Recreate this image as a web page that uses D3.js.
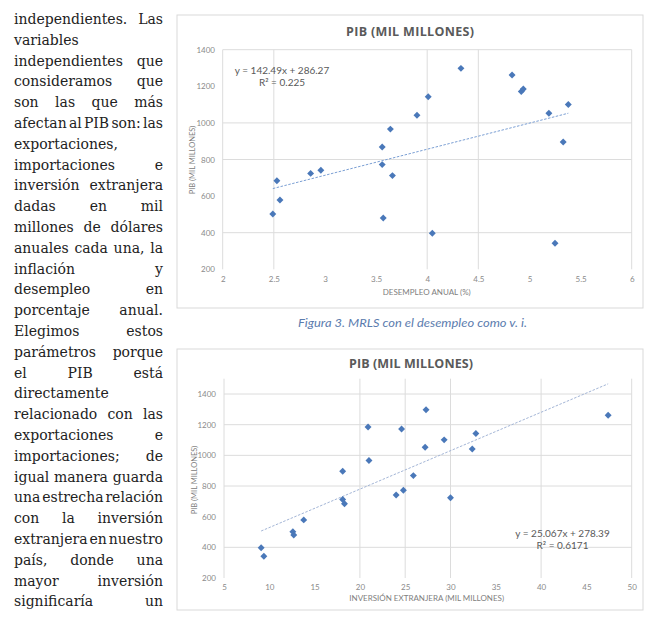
<!DOCTYPE html>
<html><head><meta charset="utf-8">
<script src="https://cdn.jsdelivr.net/npm/d3@7"></script>
<style>
html,body{margin:0;padding:0;background:#fff;}
svg{display:block;}
</style></head>
<body>
<svg id="page" width="648" height="617"></svg>
<script>
// ---------- DATA ----------
const paragraphLines = [
  "independientes. Las", "variables", "independientes que", "consideramos que",
  "son las que más", "afectan al PIB son: las", "exportaciones,", "importaciones e",
  "inversión extranjera", "dadas en mil", "millones de dólares", "anuales cada una, la",
  "inflación y", "desempleo en", "porcentaje anual.", "Elegimos estos",
  "parámetros porque", "el PIB está", "directamente", "relacionado con las",
  "exportaciones e", "importaciones; de", "igual manera guarda", "una estrecha relación",
  "con la inversión", "extranjera en nuestro", "país, donde una", "mayor inversión",
  "significaría un"
];

const pib        = [684, 579, 502, 724, 741, 772, 868, 480, 966, 712, 1042, 1143, 397, 1298, 1262, 1172, 1185, 1053, 1101, 896, 342];
const desempleo  = [2.53, 2.56, 2.49, 2.86, 2.96, 3.56, 3.56, 3.57, 3.64, 3.66, 3.90, 4.01, 4.05, 4.33, 4.83, 4.92, 4.94, 5.19, 5.38, 5.33, 5.25];
const inversion  = [18.3, 13.8, 12.6, 30.0, 24.0, 24.8, 25.9, 12.7, 21.0, 18.1, 32.4, 32.8, 9.1, 27.3, 47.4, 24.6, 20.9, 27.2, 29.3, 18.1, 9.4];

const xTicks1 = [2, 2.5, 3, 3.5, 4, 4.5, 5, 5.5, 6];
const yTicks1 = [200, 400, 600, 800, 1000, 1200, 1400];
const xGrid1  = [2, 2.5, 4, 4.5, 6];
const yGrid1  = [400, 800, 1000, 1400];
const trend1  = {slope: 142.49, intercept: 286.27, r2: "0.225", eq: "y = 142.49x + 286.27"};

const xTicks2 = [5, 10, 15, 20, 25, 30, 35, 40, 45, 50];
const yTicks2 = [200, 400, 600, 800, 1000, 1200, 1400];
const xGrid2  = [5, 20, 25, 30, 40, 50];
const yGrid2  = [400, 800, 1000, 1200, 1400];
const trend2  = {slope: 25.067, intercept: 278.39, r2: "0.6171", eq: "y = 25.067x + 278.39"};

const chartTitle = "PIB (MIL MILLONES)";
const yTitle = "PIB (MIL MILLONES)";
const xTitle1 = "DESEMPLEO ANUAL (%)";
const xTitle2 = "INVERSIÓN EXTRANJERA (MIL MILLONES)";
const caption1 = "Figura 3. MRLS con el desempleo como v. i.";

// ---------- PAGE ----------
const svg = d3.select("#page");
svg.append("rect").attr("width", 648).attr("height", 617).attr("fill", "#fff");

(function drawParagraph(){
  const left = 14, right = 163, width = right - left;
  const top = 24, step = 20.8;
  const g = svg.append("g").attr("font-family", "'DejaVu Serif', 'Liberation Serif', serif").attr("fill", "#222");
  let fs = 14.5;
  const probe = g.append("text").attr("x", -1000).attr("y", -1000);
  const measure = (t) => { probe.attr("font-size", fs).text(t); return probe.node().getComputedTextLength(); };
  for (let k = 0; k < 60; k++) {
    let ok = true;
    for (const line of paragraphLines) {
      const words = line.split(" ");
      const w = d3.sum(words, measure) + (words.length - 1) * fs * 0.12;
      if (w > width) { ok = false; break; }
    }
    if (ok) break;
    fs -= 0.1;
  }
  probe.remove();
  const m2 = g.append("text").attr("x", -1000).attr("y", -1000).attr("font-size", fs);
  paragraphLines.forEach((line, i) => {
    const words = line.split(" ");
    const y = top + i * step;
    if (words.length === 1) {
      g.append("text").attr("x", left).attr("y", y).attr("font-size", fs).text(line);
      return;
    }
    const ws = words.map(w => { m2.text(w); return m2.node().getComputedTextLength(); });
    const gap = (width - d3.sum(ws)) / (words.length - 1);
    let x = left;
    words.forEach((w, j) => {
      g.append("text").attr("x", x).attr("y", y).attr("font-size", fs).text(w);
      x += ws[j] + gap;
    });
  });
  m2.remove();
})();

// ---------- CHARTS ----------
function drawChart(cfg) {
  const g = svg.append("g");
  g.append("rect").attr("x", cfg.frame[0]).attr("y", cfg.frame[1])
    .attr("width", cfg.frame[2]).attr("height", cfg.frame[3])
    .attr("fill", "#fff").attr("stroke", "#d9d9d9").attr("stroke-width", 1);

  const x = d3.scaleLinear().domain(cfg.xDomain).range(cfg.xRange);
  const y = d3.scaleLinear().domain(cfg.yDomain).range(cfg.yRange);

  g.append("g").selectAll("line").data(cfg.yGrid).join("line")
    .attr("x1", x(cfg.xDomain[0])).attr("x2", x(cfg.xDomain[1]))
    .attr("y1", d => y(d)).attr("y2", d => y(d))
    .attr("stroke", "#dcdcdc").attr("stroke-width", 1);
  g.append("g").selectAll("line").data(cfg.xGrid).join("line")
    .attr("x1", d => x(d)).attr("x2", d => x(d))
    .attr("y1", y(cfg.yDomain[0])).attr("y2", y(cfg.yDomain[1]))
    .attr("stroke", "#dcdcdc").attr("stroke-width", 1);

  const xAxis = d3.axisBottom(x).tickValues(cfg.xTicks).tickSize(0).tickPadding(0).tickFormat(d3.format("~g"));
  const gx = g.append("g").attr("transform", `translate(0,${cfg.xLabelY})`).call(xAxis);
  gx.select(".domain").remove();
  gx.selectAll("text").attr("font-family", "Lato, 'Open Sans', sans-serif").attr("font-size", 8)
    .attr("fill", "#8a8a8a").attr("dy", "0.35em").attr("y", 0);

  const yAxis = d3.axisLeft(y).tickValues(cfg.yTicks).tickSize(0).tickPadding(0).tickFormat(d3.format("d"));
  const gy = g.append("g").attr("transform", `translate(${cfg.yLabelX},0)`).call(yAxis);
  gy.select(".domain").remove();
  gy.selectAll("text").attr("font-family", "Lato, 'Open Sans', sans-serif").attr("font-size", 8)
    .attr("fill", "#8a8a8a").attr("x", 0);

  g.append("text").attr("x", cfg.title[0]).attr("y", cfg.title[1]).attr("text-anchor", "middle")
    .attr("font-family", "'Open Sans', 'Noto Sans', sans-serif").attr("font-weight", 700)
    .attr("font-size", 12.5).attr("fill", "#5a5a5a")
    .attr("textLength", cfg.title[2]).attr("lengthAdjust", "spacing").text(chartTitle);

  g.append("text").attr("x", cfg.xTitle[0]).attr("y", cfg.xTitle[1]).attr("text-anchor", "middle")
    .attr("font-family", "Lato, 'Open Sans', sans-serif").attr("font-size", 8).attr("fill", "#808080")
    .text(cfg.xTitleText);
  g.append("text").attr("transform", `translate(${cfg.yTitle[0]},${cfg.yTitle[1]}) rotate(-90)`)
    .attr("text-anchor", "middle")
    .attr("font-family", "Lato, 'Open Sans', sans-serif").attr("font-size", 7.5).attr("fill", "#808080")
    .text(yTitle);

  const xmin = d3.min(cfg.xs), xmax = d3.max(cfg.xs);
  const t = cfg.trend;
  g.append("line")
    .attr("x1", x(xmin)).attr("y1", y(t.slope * xmin + t.intercept))
    .attr("x2", x(xmax)).attr("y2", y(t.slope * xmax + t.intercept))
    .attr("stroke", cfg.trendColor).attr("stroke-width", 1).attr("stroke-dasharray", "2.5,1.5");

  const sym = d3.symbol().type(d3.symbolSquare).size(24);
  g.append("g").selectAll("path").data(cfg.xs.map((v, i) => [v, cfg.ys[i]])).join("path")
    .attr("d", sym)
    .attr("transform", d => `translate(${x(d[0])},${y(d[1])}) rotate(45)`)
    .attr("fill", "#4a78b9");

  const eq = g.append("g").attr("font-family", "Lato, 'Open Sans', sans-serif").attr("font-size", 10)
    .attr("fill", "#595959").attr("text-anchor", "middle");
  eq.append("text").attr("x", cfg.eq[0]).attr("y", cfg.eq[1]).text(t.eq);
  eq.append("text").attr("x", cfg.eq[0]).attr("y", cfg.eq[1] + 12).text("R² = " + t.r2);
}

drawChart({
  frame: [177, 15, 466, 293],
  xDomain: [2, 6], xRange: [222.7, 631.7],
  yDomain: [200, 1400], yRange: [269.3, 49.7],
  xTicks: xTicks1, yTicks: yTicks1, xGrid: xGrid1, yGrid: yGrid1,
  xLabelY: 279.5, yLabelX: 215,
  title: [410, 35.5, 128],
  xTitle: [426.7, 295], xTitleText: xTitle1,
  yTitle: [195, 160],
  xs: desempleo, ys: pib, trend: trend1, trendColor: "#7b9fd4",
  eq: [282, 74]
});

drawChart({
  frame: [177, 349, 466, 261],
  xDomain: [5, 50], xRange: [224, 631.7],
  yDomain: [200, 1500], yRange: [578, 378.7],
  xTicks: xTicks2, yTicks: yTicks2, xGrid: xGrid2, yGrid: yGrid2,
  xLabelY: 587, yLabelX: 216,
  title: [411, 368, 124],
  xTitle: [426.7, 600.5], xTitleText: xTitle2,
  yTitle: [197, 480],
  xs: inversion, ys: pib, trend: trend2, trendColor: "#a3b5d6",
  eq: [562.5, 537]
});

svg.append("text").attr("x", 412.5).attr("y", 327).attr("text-anchor", "middle")
  .attr("font-family", "Lato, 'Open Sans', sans-serif").attr("font-style", "italic")
  .attr("font-size", 12).attr("fill", "#5b7cae")
  .attr("textLength", 229).attr("lengthAdjust", "spacingAndGlyphs")
  .text(caption1);
</script>
</body></html>
